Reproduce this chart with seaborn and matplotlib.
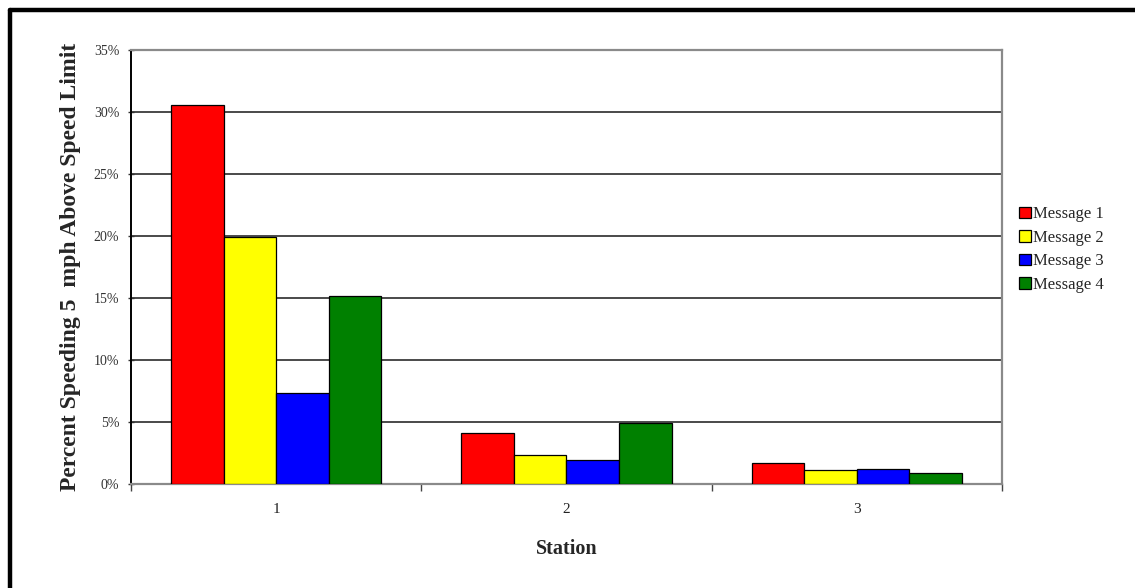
import matplotlib
matplotlib.use("Agg")
import matplotlib.pyplot as plt
from matplotlib.lines import Line2D
import seaborn as sns
import pandas as pd

stations = ["1", "2", "3"]
messages = ["Message 1", "Message 2", "Message 3", "Message 4"]
msg1 = [30.6, 4.1, 1.7]
msg2 = [19.9, 2.3, 1.1]
msg3 = [7.3, 1.95, 1.2]
msg4 = [15.2, 4.9, 0.87]
yticks = [0, 5, 10, 15, 20, 25, 30, 35]
ytick_labels = ["0%", "5%", "10%", "15%", "20%", "25%", "30%", "35%"]
colors = ["#FF0000", "#FFFF00", "#0000FF", "#008000"]

rows = []
for m, vals in zip(messages, [msg1, msg2, msg3, msg4]):
    for s, v in zip(stations, vals):
        rows.append({"Station": s, "Message": m, "Value": v})
df = pd.DataFrame(rows)

sns.set_theme(style="white")
plt.rcParams["font.family"] = ["Liberation Serif", "DejaVu Serif"]

fig = plt.figure(figsize=(11.35, 5.88), dpi=100)
ax = fig.add_axes([131 / 1135, 104 / 588, 871 / 1135, 434 / 588])

sns.barplot(data=df, x="Station", y="Value", hue="Message", order=stations,
            hue_order=messages, palette=colors, width=0.725, gap=0,
            edgecolor="black", linewidth=0.9, saturation=1, ax=ax,
            errorbar=None, zorder=3)

ax.set_ylim(0, 35)
ax.set_xlim(-0.5, 2.5)
ax.set_yticks(yticks)
ax.set_yticklabels(ytick_labels, fontsize=10, color="#333333")
ax.yaxis.grid(True, color="#4a4a4a", linewidth=1.4, zorder=0)
ax.set_axisbelow(True)

ax.set_xticks([0, 1, 2])
ax.set_xticklabels(stations, fontsize=11, color="#222222")
ax.set_xticks([-0.5, 0.5, 1.5, 2.5], minor=True)
ax.tick_params(axis="x", which="major", length=0, pad=14)
ax.tick_params(axis="x", which="minor", length=5, width=1, color="#444444", direction="out", bottom=True)
ax.tick_params(axis="y", which="major", length=5, width=1, color="#333333", direction="inout", left=True, pad=6)

for side in ["top", "right", "bottom"]:
    ax.spines[side].set_color("#8a8a8a")
    ax.spines[side].set_linewidth(1.6)
ax.spines["left"].set_color("black")
ax.spines["left"].set_linewidth(1.4)

ax.set_xlabel("Station", fontsize=14.5, fontweight="bold", labelpad=16)
ax.set_ylabel("Percent Speeding 5  mph Above Speed Limit", fontsize=17,
              fontweight="bold", labelpad=9)

leg = ax.legend(loc="center left", bbox_to_anchor=(1.012, 0.54), frameon=False,
                fontsize=12, handlelength=0.7, handleheight=0.7,
                handletextpad=0.15, labelspacing=0.45, borderaxespad=0)
for h in leg.legend_handles:
    h.set_edgecolor("black")
    h.set_linewidth(0.9)

# outer frame (left and top edges)
fig.add_artist(Line2D([10 / 1135, 10 / 1135], [0, 1 - 10 / 588],
                      transform=fig.transFigure, color="black", linewidth=3.2))
fig.add_artist(Line2D([10 / 1135, 1], [1 - 10 / 588, 1 - 10 / 588],
                      transform=fig.transFigure, color="black", linewidth=3.2))

fig.savefig("out.png", dpi=100)
